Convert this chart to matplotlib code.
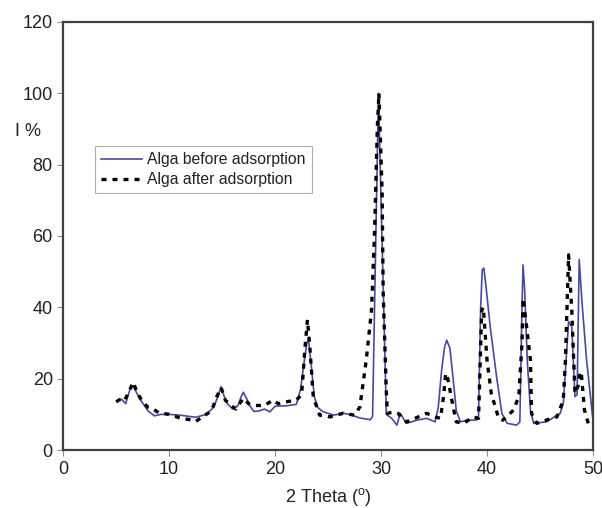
import numpy as np
import matplotlib
matplotlib.use("Agg")
import matplotlib.pyplot as plt

# Alga before adsorption (solid blue)
x_before = [5.2, 5.5, 5.9, 6.3, 6.6, 7.2, 8.0, 8.6, 9.2, 10.0, 11.0, 12.5, 13.5, 14.2,
            14.6, 14.9, 15.2, 15.5, 16.0, 16.5, 16.8, 17.0, 17.3, 17.6, 18.0, 18.5,
            19.0, 19.5, 20.0, 21.0, 22.0, 22.4, 22.8, 23.0, 23.15, 23.4, 23.7, 24.0,
            24.5, 25.5, 26.5, 27.0, 28.0, 29.0, 29.2, 29.75, 30.5, 31.0, 31.5, 31.8,
            32.4, 33.4, 34.3, 35.1, 35.4, 35.7, 36.0, 36.2, 36.5, 36.8, 37.1, 37.5,
            38.1, 39.0, 39.2, 39.4, 39.55, 39.7, 39.9, 40.3, 40.9, 41.4, 41.9, 42.8,
            43.1, 43.3, 43.4, 43.55, 43.8, 44.1, 44.4, 45.6, 46.9, 47.2, 47.5, 47.7,
            48.0, 48.3, 48.5, 48.7, 49.0, 49.4, 49.9, 50.0]
y_before = [14.0, 14.3, 13.0, 17.0, 18.0, 14.5, 11.0, 9.6, 10.0, 10.0, 9.8, 9.2, 10.0, 12.0,
            15.0, 17.8, 15.0, 13.0, 11.5, 12.5, 15.0, 16.2, 14.5, 12.5, 10.8, 11.0,
            11.5, 10.7, 12.3, 12.4, 12.8, 17.0, 26.0, 30.0, 31.0, 24.0, 15.0, 12.0,
            10.8, 9.8, 10.3, 10.0, 9.0, 8.5, 9.5, 100.0, 10.0, 8.9, 7.0, 10.3,
            7.5, 8.4, 8.9, 7.9, 12.0, 22.0, 29.0, 30.8, 28.5, 20.0, 11.0, 7.9,
            8.4, 8.4, 9.5, 40.0, 50.5, 51.0, 46.0, 34.6, 20.6, 10.3, 7.5, 7.0,
            7.9, 40.0, 51.9, 45.0, 25.0, 11.2, 7.5, 7.9, 10.3, 13.1, 27.0, 36.0,
            34.6, 15.0, 15.5, 53.4, 40.0, 25.2, 11.2, 8.5]

# Alga after adsorption (dashed black)
x_after = [5.0, 5.5, 5.8, 6.3, 6.6, 7.0, 7.5, 8.0, 8.5, 9.0, 10.0, 11.0, 12.0, 12.5,
           13.0, 14.0, 14.5, 14.9, 15.3, 15.8, 16.3, 17.0, 17.5, 18.0, 19.0, 19.8,
           20.3, 21.0, 22.0, 22.5, 22.8, 23.05, 23.3, 23.6, 24.2, 25.2, 26.4, 27.5,
           28.0, 28.6, 29.1, 29.4, 29.65, 29.8, 30.1, 30.2, 30.5, 30.6, 31.2, 31.6,
           32.4, 33.2, 34.3, 35.1, 35.6, 35.9, 36.1, 36.3, 36.8, 37.1, 37.8, 38.7,
           39.2, 39.5, 39.65, 40.0, 40.4, 41.1, 41.5, 42.5, 43.0, 43.3, 43.4, 43.6,
           44.1, 44.2, 44.7, 45.6, 46.6, 47.2, 47.4, 47.7, 48.0, 48.3, 48.6, 48.8,
           48.9, 49.2, 49.6, 49.8]
y_after = [13.5, 14.5, 14.0, 17.0, 19.0, 16.0, 13.5, 12.0, 11.5, 10.5, 10.0, 9.0, 8.5, 8.0,
           9.0, 11.0, 15.0, 17.5, 14.0, 12.5, 11.5, 14.5, 13.0, 12.5, 12.5, 14.0,
           13.0, 13.5, 14.0, 15.5, 28.0, 36.5, 28.0, 15.0, 9.8, 9.3, 10.3, 9.8,
           12.1, 25.2, 39.2, 62.6, 90.6, 100.0, 72.0, 44.0, 15.9, 10.3, 10.7, 10.3,
           7.9, 8.9, 10.3, 9.3, 8.9, 15.0, 21.5, 20.0, 12.1, 7.9, 7.5, 9.3,
           8.9, 39.2, 40.0, 25.2, 15.9, 8.9, 8.4, 11.2, 15.0, 29.9, 42.5, 38.0,
           25.2, 10.3, 7.5, 8.4, 9.3, 14.0, 25.2, 54.7, 39.2, 15.9, 18.0, 22.0,
           21.5, 11.2, 7.0, 6.5]

x_ticks = [0, 10, 20, 30, 40, 50]
y_ticks = [0, 20, 40, 60, 80, 100, 120]


def main():
    plt.rcParams['font.family'] = 'Liberation Sans'
    plt.rcParams['mathtext.fontset'] = 'custom'
    plt.rcParams['mathtext.rm'] = 'Liberation Sans'

    fig = plt.figure(figsize=(6.02, 5.08), dpi=100)
    ax = fig.add_axes([0.105, 0.114, 0.88, 0.843])

    ax.plot(x_before, y_before, color="#4a4a9c", linewidth=1.2,
            label="Alga before adsorption")
    ax.plot(x_after, y_after, color="black", linewidth=2.4, linestyle=(0, (1.5, 1.8)),
            label="Alga after adsorption")

    ax.set_xlim(0, 50)
    ax.set_ylim(0, 120)
    ax.set_xticks(x_ticks)
    ax.set_yticks(y_ticks)
    ax.tick_params(axis='both', direction='out', length=4, width=0.8,
                   labelsize=13, colors="#222222")
    ax.tick_params(axis='both', color="#909090")
    for sp in ax.spines.values():
        sp.set_color("#404040")
        sp.set_linewidth(1.6)

    ax.set_xlabel("2 Theta ($^{\\mathrm{o}}$)", fontsize=13, color="#222222", labelpad=6)
    fig.text(28 / 602, 1 - 131 / 508, "I %", fontsize=13, color="#222222",
             ha='center', va='center')

    leg = ax.legend(loc='upper left', bbox_to_anchor=(0.06, 0.71), fontsize=11.3,
                    fancybox=False, edgecolor="#b0b0b0", framealpha=1,
                    borderaxespad=0, handlelength=2.6, handletextpad=0.3,
                    borderpad=0.4, labelspacing=0.3)
    leg.get_frame().set_linewidth(0.8)
    for t in leg.get_texts():
        t.set_color("#222222")

    fig.savefig("out.png", dpi=100)


if __name__ == "__main__":
    main()
